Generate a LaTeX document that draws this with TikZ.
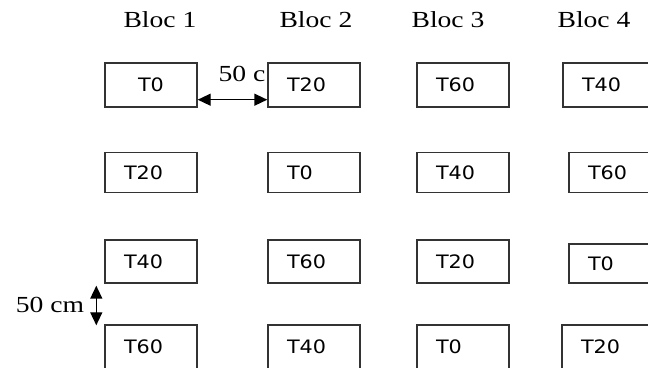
\documentclass[tikz,border=0pt]{standalone}
\usepackage{fontspec}
\setmainfont{Liberation Serif}[FakeStretch=1.2]
\newfontfamily\parcelfont{DejaVu Sans}[FakeStretch=1.12]
\usetikzlibrary{arrows.meta,calc}
\tikzset{>={Triangle[length=13pt,width=12pt]},
	parcel/.style={rectangle,draw=black!80,line width=1.4pt,minimum width=92pt,minimum height=44pt,inner xsep=19pt,inner ysep=0pt,text width=54pt,align=left,font=\parcelfont\fontsize{18.5}{20}\selectfont},
	bloclabel/.style={anchor=base,inner sep=0pt,font=\fontsize{23}{26}\selectfont},
	dist/.style={anchor=base,inner sep=0pt,font=\fontsize{23}{26}\selectfont}}

\begin{document}
\begin{tikzpicture}[x=1pt,y=1pt]
	\useasboundingbox (0,0) rectangle (648,367);
	\node (L1) at (160,339) [bloclabel] {Bloc 1};
	\node (L2) at (316,339) [bloclabel] {Bloc 2};
	\node (L3) at (448,339) [bloclabel] {Bloc 3};
	\node (L4) at (594,339) [bloclabel] {Bloc 4};
	\node (H) at (242,285) [dist] {50 c};
	\node (V) at (50,54) [dist] {50 cm};
	\node (A1) at (151,282) [parcel,align=center] {T0};
	\node (B1) at (314,282) [parcel] {T20};
	\node (C1) at (463,282) [parcel] {T60};
	\node (D1) at (609,282) [parcel] {T40};
	\node (A2) at (151,194.3) [parcel,minimum height=40pt] {T20};
	\node (B2) at (314,194.3) [parcel,minimum height=40pt] {T0};
	\node (C2) at (463,194.3) [parcel,minimum height=40pt] {T40};
	\node (D2) at (615,194.3) [parcel,minimum height=40pt] {T60};
	\node (A3) at (151,105.5) [parcel,minimum height=43pt] {T40};
	\node (B3) at (314,105.5) [parcel,minimum height=43pt] {T60};
	\node (C3) at (463,105.5) [parcel,minimum height=43pt] {T20};
	\node (D3) at (615,103.5) [parcel,minimum height=39pt] {T0};
	\node (A4) at (151,20) [parcel] {T60};
	\node (B4) at (314,20) [parcel] {T40};
	\node (C4) at (463,20) [parcel] {T0};
	\node (D4) at (608,20) [parcel] {T20};
	\draw [<->, line width=1.4pt] ($(A1.south east)+(0,8)$) -- ($(B1.south west)+(0,8)$);
	\draw [<->, line width=1.4pt] ($(A3.south west)+(-8,-2)$) -- ($(A4.north west)+(-8,-1)$);
\end{tikzpicture}
\end{document}
